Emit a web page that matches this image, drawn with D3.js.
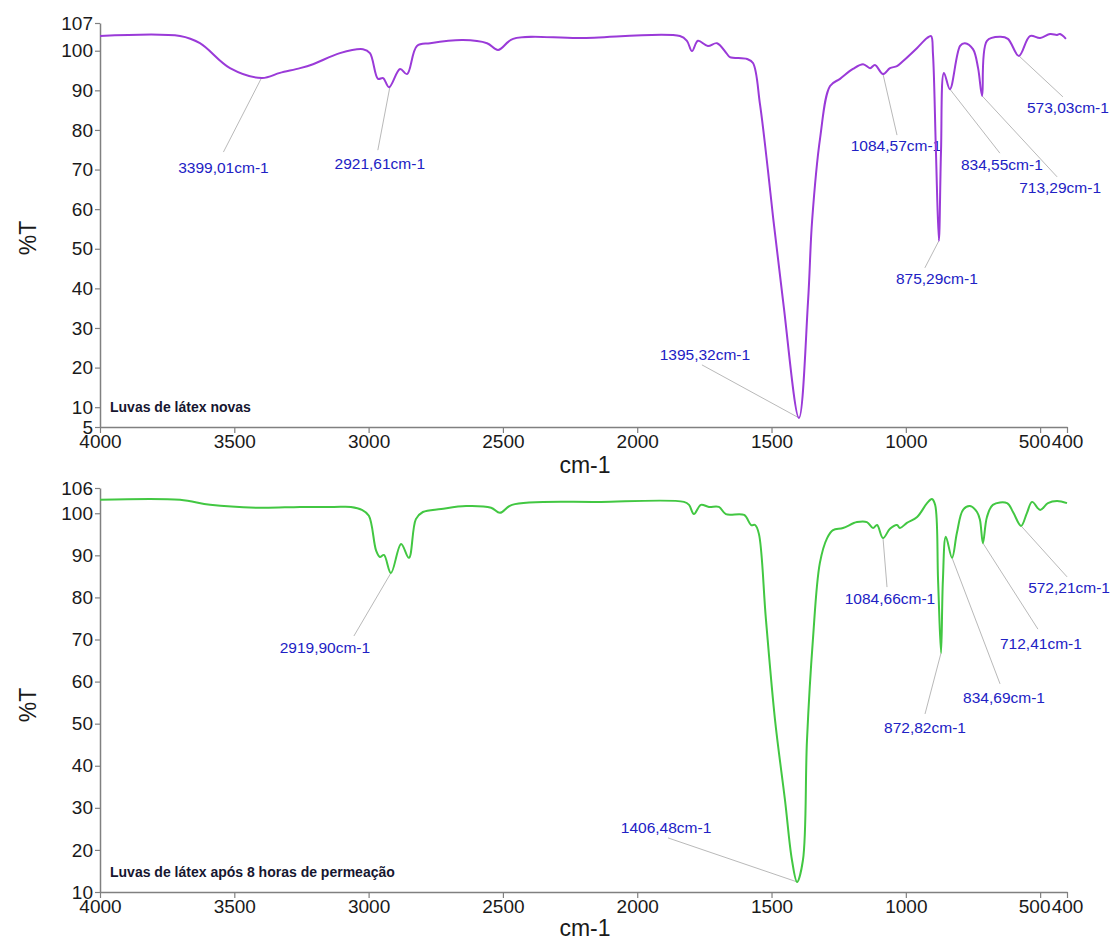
<!DOCTYPE html>
<html>
<head>
<meta charset="utf-8">
<style>
  body { margin: 0; background: #fff; }
</style>
</head>
<body>
<div id="chart"></div>
<script src="https://cdn.jsdelivr.net/npm/d3@7"></script>
<script>
  // spectrum of new gloves (purple)
  var topWavenumber = [4000, 3702, 3628, 3516, 3397, 3330, 3255, 3207, 3107, 3021, 2995, 2965, 2946, 2924, 2883, 2857, 2820, 2771, 2649, 2559, 2518, 2462, 2213, 1841, 1815, 1796, 1774, 1737, 1703, 1666, 1655, 1591, 1569, 1543, 1513, 1494, 1457, 1398, 1364, 1349, 1319, 1282, 1245, 1197, 1159, 1133, 1115, 1085, 1059, 1033, 1010, 958, 921, 906, 899, 888, 877, 869, 858, 836, 798, 780, 750, 731, 716, 698, 649, 620, 579, 538, 500, 463, 437, 426, 404];
  var topTransmittance = [103.7, 103.7, 101.9, 95.6, 93.1, 94.4, 95.6, 96.6, 99.4, 100.4, 99.4, 92.9, 93.1, 90.8, 95.4, 94.1, 101.2, 101.9, 102.7, 101.9, 100.2, 103.0, 103.2, 103.7, 102.5, 99.9, 102.5, 101.2, 101.9, 99.2, 98.4, 97.9, 96.9, 86.5, 69.6, 57.8, 36.8, 7.3, 36.8, 57.0, 78.0, 91.1, 92.9, 95.4, 96.6, 95.6, 96.4, 94.1, 95.6, 96.1, 97.4, 100.7, 103.2, 103.7, 99.2, 74.7, 52.0, 74.7, 94.4, 90.3, 101.2, 101.9, 100.4, 95.6, 88.6, 102.5, 103.5, 103.0, 98.7, 103.7, 103.2, 104.2, 104.0, 104.2, 103.0];

  // spectrum after 8 hours of permeation (green)
  var bottomWavenumber = [4000, 3702, 3590, 3404, 3255, 3129, 3066, 3025, 2999, 2972, 2958, 2943, 2917, 2879, 2850, 2824, 2798, 2730, 2637, 2544, 2511, 2466, 2135, 1826, 1807, 1789, 1763, 1733, 1696, 1670, 1602, 1576, 1561, 1547, 1521, 1487, 1450, 1424, 1405, 1383, 1368, 1346, 1320, 1293, 1271, 1234, 1182, 1145, 1122, 1107, 1085, 1059, 1033, 1022, 996, 958, 921, 903, 891, 880, 869, 862, 851, 828, 810, 787, 761, 735, 724, 713, 698, 676, 623, 601, 571, 549, 530, 500, 471, 437, 400];
  var bottomTransmittance = [103.2, 103.2, 102.0, 101.3, 101.5, 101.5, 101.5, 100.8, 99.4, 91.1, 89.6, 90.1, 85.8, 92.7, 89.4, 98.6, 100.3, 101.0, 101.7, 101.3, 100.1, 102.0, 102.7, 102.7, 102.0, 99.8, 102.0, 101.5, 101.5, 99.8, 99.6, 97.2, 97.2, 95.1, 74.9, 50.9, 31.9, 17.6, 12.4, 17.6, 46.1, 69.9, 88.2, 94.1, 96.0, 96.5, 97.9, 97.9, 96.5, 97.2, 94.1, 96.3, 97.2, 96.5, 97.7, 99.1, 102.4, 103.4, 102.0, 84.1, 66.8, 84.1, 94.4, 89.4, 95.3, 100.8, 101.7, 100.3, 98.4, 92.9, 99.1, 102.0, 102.4, 100.3, 97.0, 100.1, 102.7, 100.8, 102.4, 102.9, 102.4];

  var xTicks = [4000, 3500, 3000, 2500, 2000, 1500, 1000, 500, 400];
  var topYTicks = [5, 10, 20, 30, 40, 50, 60, 70, 80, 90, 100, 107];
  var bottomYTicks = [10, 20, 30, 40, 50, 60, 70, 80, 90, 100, 106];

  // marked peaks
  var topPeakWavenumber = [3399, 2921, 1085, 877, 836, 716, 579, 1398];
  var topPeakTransmittance = [93.1, 90.8, 94.1, 52.0, 90.3, 88.6, 98.7, 7.3];
  var topPeakLabels = ["3399,01cm-1", "2921,61cm-1", "1084,57cm-1", "875,29cm-1", "834,55cm-1", "713,29cm-1", "573,03cm-1", "1395,32cm-1"];
  var bottomPeakWavenumber = [2917, 1085, 869, 828, 713, 571, 1405];
  var bottomPeakTransmittance = [85.8, 94.1, 66.8, 89.4, 92.9, 97.0, 12.4];
  var bottomPeakLabels = ["2919,90cm-1", "1084,66cm-1", "872,82cm-1", "834,69cm-1", "712,41cm-1", "572,21cm-1", "1406,48cm-1"];

  // label placement (pixel offsets from the peak): leader end ex,ey and text centre tx,ty
  var topLabelOffsets = [[-38, 74, -38, 89], [-12, 63, -10, 76], [14, 61, 13, 71], [-14, 27, -2, 38], [50, 64, 52, 75], [75, 81, 78, 92], [44, 41, 49, 52], [-97, -53, -94, -63]];
  var bottomLabelOffsets = [[-37, 63, -66, 74], [4, 49, 7, 60], [-16, 61, -16, 75], [48, 126, 52, 140], [55, 86, 58, 100], [46, 51, 48, 62], [-129, -44, -131, -54]];

  var width = 1112;
  var height = 941;
  var svg = d3.select("#chart")
    .append("svg")
    .attr("width", width)
    .attr("height", height)
    .style("font-family", "Arial, 'Liberation Sans', sans-serif");

  var xScale = d3.scaleLinear().domain([4000, 400]).range([100, 1067]);

  drawPanel({
    wn: topWavenumber, t: topTransmittance,
    yDomain: [5, 107], yRange: [427, 23], yTicks: topYTicks,
    color: "#9a3ad8",
    peaksWn: topPeakWavenumber, peaksT: topPeakTransmittance, labels: topPeakLabels, offsets: topLabelOffsets,
    title: "Luvas de látex novas", titleY: 412,
    xTitleY: 473, yTitleY: 238
  });
  drawPanel({
    wn: bottomWavenumber, t: bottomTransmittance,
    yDomain: [10, 106], yRange: [892, 488], yTicks: bottomYTicks,
    color: "#42c742",
    peaksWn: bottomPeakWavenumber, peaksT: bottomPeakTransmittance, labels: bottomPeakLabels, offsets: bottomLabelOffsets,
    title: "Luvas de látex após 8 horas de permeação", titleY: 877,
    xTitleY: 936, yTitleY: 705
  });

  function drawPanel(p) {
    var yScale = d3.scaleLinear().domain(p.yDomain).range(p.yRange);
    var baseY = p.yRange[0];

    var xAxis = svg.append("g")
      .attr("transform", "translate(0," + baseY + ")")
      .call(d3.axisBottom(xScale).tickValues(xTicks).tickFormat(d3.format("d")).tickSize(6).tickSizeOuter(0));
    var yAxis = svg.append("g")
      .attr("transform", "translate(100,0)")
      .call(d3.axisLeft(yScale).tickValues(p.yTicks).tickFormat(d3.format("d")).tickSize(5).tickSizeOuter(0).tickPadding(2));

    [xAxis, yAxis].forEach(function(a) {
      a.select(".domain").attr("stroke", "#808080").attr("stroke-width", 1.5);
      a.selectAll(".tick line").attr("stroke", "#808080").attr("stroke-width", 1.2);
      a.selectAll(".tick text").attr("fill", "#1a1a1a").style("font-size", "19px").style("font-family", "Arial, 'Liberation Sans', sans-serif");
    });
    xAxis.selectAll(".tick text").attr("y", 8);
    // 500 and 400 sit close together, nudge 500 left like the original
    xAxis.selectAll(".tick text").filter(function(d) { return d === 500; }).attr("dx", -6);

    var pts = p.wn.map(function(w, i) { return [w, p.t[i]]; });
    var line = d3.line()
      .x(function(d) { return xScale(d[0]); })
      .y(function(d) { return yScale(d[1]); })
      .curve(d3.curveCatmullRom.alpha(0.5));

    // peak leaders and labels
    p.peaksWn.forEach(function(w, i) {
      var px = xScale(w), py = yScale(p.peaksT[i]);
      var o = p.offsets[i];
      svg.append("line")
        .attr("x1", px).attr("y1", py)
        .attr("x2", px + o[0]).attr("y2", py + o[1])
        .attr("stroke", "#b9b9b9")
        .attr("stroke-width", 1);
      svg.append("text")
        .attr("x", px + o[2])
        .attr("y", py + o[3])
        .attr("text-anchor", "middle")
        .attr("dominant-baseline", "central")
        .attr("font-size", "15.5px")
        .attr("fill", "#2121c4")
        .text(p.labels[i]);
    });

    svg.append("path")
      .datum(pts)
      .attr("d", line)
      .attr("fill", "none")
      .attr("stroke", p.color)
      .attr("stroke-width", 2)
      .attr("stroke-linejoin", "round");

    svg.append("text")
      .attr("x", 110)
      .attr("y", p.titleY)
      .attr("font-size", "14px")
      .attr("font-weight", "bold")
      .attr("fill", "#161630")
      .text(p.title);

    svg.append("text")
      .attr("x", 585)
      .attr("y", p.xTitleY)
      .attr("text-anchor", "middle")
      .attr("font-size", "23px")
      .attr("fill", "#1a1a1a")
      .text("cm-1");

    svg.append("text")
      .attr("transform", "translate(36," + p.yTitleY + ") rotate(-90)")
      .attr("text-anchor", "middle")
      .attr("font-size", "23px")
      .attr("fill", "#1a1a1a")
      .text("%T");
  }
</script>
</body>
</html>
